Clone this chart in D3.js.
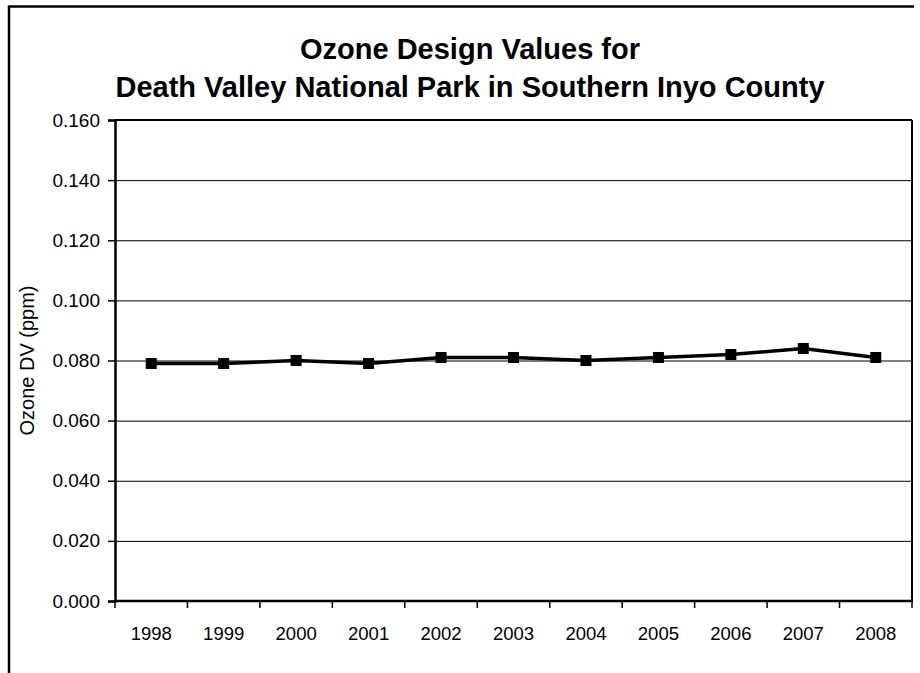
<!DOCTYPE html>
<html>
<head>
<meta charset="utf-8">
<script src="https://cdn.jsdelivr.net/npm/d3@7"></script>
<style>
  html, body { margin: 0; padding: 0; background: #fff; }
  svg { display: block; }
  text { font-family: "Liberation Sans", Arial, sans-serif; fill: #000; }
</style>
</head>
<body>
<svg id="chart" width="920" height="673"></svg>
<script>
// ---- data ----
const years = ["1998", "1999", "2000", "2001", "2002", "2003", "2004", "2005", "2006", "2007", "2008"];
const ozoneDV = [0.079, 0.079, 0.080, 0.079, 0.081, 0.081, 0.080, 0.081, 0.082, 0.084, 0.081];
const yTicks = [0.000, 0.020, 0.040, 0.060, 0.080, 0.100, 0.120, 0.140, 0.160];
const titleLines = ["Ozone Design Values for", "Death Valley National Park in Southern Inyo County"];
const yAxisTitle = "Ozone DV (ppm)";

// ---- layout ----
const W = 920, H = 673;
const plot = { left: 115, right: 912, top: 120, bottom: 601 };

const svg = d3.select("#chart");

// outer frame (top and left edges visible, cropped on right/bottom)
svg.append("line").attr("x1", 9).attr("x2", 914).attr("y1", 6.5).attr("y2", 6.5)
  .attr("stroke", "#000").attr("stroke-width", 2.5);
svg.append("line").attr("x1", 9).attr("x2", 9).attr("y1", 5.5).attr("y2", H)
  .attr("stroke", "#000").attr("stroke-width", 2.5);

const x = d3.scaleBand().domain(years).range([plot.left, plot.right]).padding(0);
const y = d3.scaleLinear().domain([0, 0.16]).range([plot.bottom, plot.top]);

// gridlines
const grid = svg.append("g").attr("transform", `translate(${plot.left},0)`)
  .call(d3.axisLeft(y).tickValues(yTicks).tickSize(-(plot.right - plot.left)).tickFormat(""));
grid.select(".domain").remove();
grid.selectAll("line").attr("stroke", "#000").attr("stroke-width", 1);

// plot border top and right
svg.append("line").attr("x1", plot.left).attr("x2", plot.right).attr("y1", plot.top).attr("y2", plot.top)
  .attr("stroke", "#000").attr("stroke-width", 2);
svg.append("line").attr("x1", plot.right).attr("x2", plot.right).attr("y1", plot.top).attr("y2", plot.bottom)
  .attr("stroke", "#000").attr("stroke-width", 2);

// y axis
const yAxis = svg.append("g").attr("transform", `translate(${plot.left},0)`)
  .call(d3.axisLeft(y).tickValues(yTicks).tickSize(7).tickPadding(8).tickFormat(d3.format(".3f")));
yAxis.select(".domain").attr("stroke", "#000").attr("stroke-width", 2.5);
yAxis.selectAll(".tick line").attr("stroke", "#000").attr("stroke-width", 1.5);
yAxis.selectAll(".tick text").attr("font-size", 19).attr("fill", "#000")
  .attr("font-family", "Liberation Sans, Arial, sans-serif");

// x axis: labels centered in bands, ticks at band boundaries
const xAxis = svg.append("g").attr("transform", `translate(0,${plot.bottom})`)
  .call(d3.axisBottom(x).tickSize(0).tickPadding(26));
xAxis.select(".domain").remove();
xAxis.selectAll(".tick text").attr("font-size", 18.5).attr("fill", "#000")
  .attr("font-family", "Liberation Sans, Arial, sans-serif");
svg.append("line").attr("x1", plot.left - 1).attr("x2", plot.right + 1)
  .attr("y1", plot.bottom).attr("y2", plot.bottom)
  .attr("stroke", "#000").attr("stroke-width", 2.5);
const boundaries = years.map(d => x(d)).concat([x(years[years.length - 1]) + x.bandwidth()]);
svg.append("g").selectAll("line").data(boundaries).join("line")
  .attr("x1", d => d).attr("x2", d => d)
  .attr("y1", plot.bottom).attr("y2", plot.bottom + 7)
  .attr("stroke", "#000").attr("stroke-width", 1.5);

// series line
const pts = years.map((d, i) => ({ year: d, v: ozoneDV[i] }));
const line = d3.line().x(d => x(d.year) + x.bandwidth() / 2).y(d => y(d.v));
svg.append("path").datum(pts).attr("d", line)
  .attr("fill", "none").attr("stroke", "#000").attr("stroke-width", 3.5)
  .attr("stroke-linejoin", "round");
const ms = 11;
svg.append("g").selectAll("rect").data(pts).join("rect")
  .attr("x", d => x(d.year) + x.bandwidth() / 2 - ms / 2)
  .attr("y", d => y(d.v) - ms / 2)
  .attr("width", ms).attr("height", ms).attr("fill", "#000");

// title
svg.append("g").selectAll("text").data(titleLines).join("text")
  .attr("x", 470).attr("y", (d, i) => 59 + i * 38)
  .attr("text-anchor", "middle").attr("font-size", 29).attr("font-weight", "bold")
  .text(d => d);

// y axis title
svg.append("text")
  .attr("transform", `translate(34,${(plot.top + plot.bottom) / 2}) rotate(-90)`)
  .attr("text-anchor", "middle").attr("font-size", 20)
  .text(yAxisTitle);
</script>
</body>
</html>
